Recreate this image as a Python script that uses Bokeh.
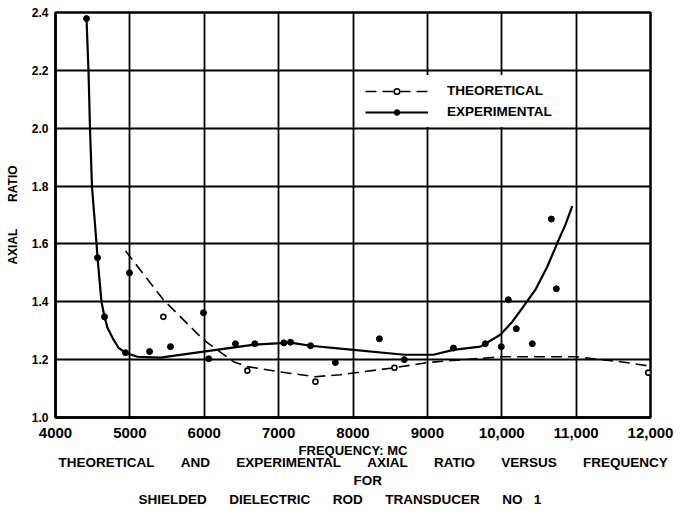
from bokeh.plotting import figure
from bokeh.models import FixedTicker, Legend, LegendItem, Title
from bokeh.embed import file_html
from bokeh.resources import INLINE

# ---------------- data ----------------
x_ticks = [4000, 5000, 6000, 7000, 8000, 9000, 10000, 11000, 12000]
x_tick_labels = ["4000", "5000", "6000", "7000", "8000", "9000", "10,000", "11,000", "12,000"]
y_ticks = [1.0, 1.2, 1.4, 1.6, 1.8, 2.0, 2.2, 2.4]
y_tick_labels = ["1.0", "1.2", "1.4", "1.6", "1.8", "2.0", "2.2", "2.4"]

# experimental smooth curve
exp_curve_f = [4417, 4444, 4464, 4491, 4551, 4565, 4618, 4659, 4699, 4780, 4847, 4941, 5102, 5411,
               5989, 6675, 7159, 7427, 7830, 8691, 9081, 9349, 9712, 9981, 10142, 10290,
               10451, 10612, 10747, 10855, 10948]
exp_curve_r = [2.379, 2.196, 1.997, 1.797, 1.603, 1.552, 1.400, 1.348, 1.310, 1.269, 1.241, 1.224, 1.210, 1.207,
               1.228, 1.252, 1.259, 1.248, 1.238, 1.217, 1.217, 1.234, 1.245, 1.286, 1.331, 1.383,
               1.441, 1.521, 1.603, 1.666, 1.731]

# experimental measured points
exp_pts_f = [4417, 4565, 4659, 4995, 4941, 5265, 5546, 5990, 6060, 6420, 6680, 7070, 7160,
             7430, 7763, 8355, 8690, 9350, 9779, 9994, 10088, 10196, 10411, 10667, 10734]
exp_pts_r = [2.379, 1.552, 1.348, 1.500, 1.224, 1.228, 1.245, 1.362, 1.203, 1.255, 1.255, 1.258, 1.260,
             1.248, 1.190, 1.272, 1.200, 1.240, 1.255, 1.245, 1.407, 1.307, 1.255, 1.686, 1.445]

# theoretical curve
th_curve_f = [4941, 5451, 5989, 6392, 6580, 6983, 7494, 7830, 8557, 9000, 9995, 11003, 11594, 11957]
th_curve_r = [1.576, 1.407, 1.269, 1.193, 1.176, 1.159, 1.141, 1.148, 1.172, 1.190, 1.210, 1.210, 1.193, 1.179]

# theoretical computed points
th_pts_f = [5450, 6580, 7495, 8557, 11970]
th_pts_r = [1.348, 1.162, 1.124, 1.172, 1.155]

FONT = "Liberation Sans"
NB = "\u00a0"

def spaced(words, n):
    return (NB * n).join(words)

p = figure(width=680, height=511, x_range=(4000, 12000), y_range=(1.0, 2.4),
           output_backend="svg", toolbar_location=None,
           min_border_left=55, min_border_right=30, min_border_top=12, min_border_bottom=94)
p.background_fill_color = "white"
p.border_fill_color = "white"
p.outline_line_color = "black"
p.outline_line_width = 2.5

# axes
p.xaxis.ticker = FixedTicker(ticks=x_ticks)
p.yaxis.ticker = FixedTicker(ticks=y_ticks)
p.xaxis.major_label_overrides = dict(zip(x_ticks, x_tick_labels))
p.yaxis.major_label_overrides = dict(zip(y_ticks, y_tick_labels))
for ax in (p.xaxis[0], p.yaxis[0]):
    ax.axis_line_color = "black"
    ax.axis_line_width = 2.5
    ax.major_tick_out = 0
    ax.major_tick_in = 0
    ax.minor_tick_out = 0
    ax.minor_tick_in = 0
    ax.major_label_text_font = FONT
    ax.major_label_text_font_style = "bold"
    ax.major_label_text_color = "black"
    ax.axis_label_text_font = FONT
    ax.axis_label_text_font_style = "bold"
    ax.axis_label_text_color = "black"

p.xaxis.major_label_text_font_size = "15px"
p.xaxis.major_label_standoff = 10
p.xaxis.axis_label = "FREQUENCY: MC"
p.xaxis.axis_label_text_font_size = "13px"
p.xaxis.axis_label_standoff = 2
p.xaxis.axis_label_text_line_height = 0.9

p.yaxis.major_label_text_font_size = "12px"
p.yaxis.major_label_standoff = 7
p.yaxis.axis_label = spaced(["AXIAL", "RATIO"], 8)
p.yaxis.axis_label_text_font_size = "12px"
p.yaxis.axis_label_standoff = 9

# grid
p.xgrid.ticker = FixedTicker(ticks=x_ticks)
p.ygrid.ticker = FixedTicker(ticks=y_ticks)
for g in (p.xgrid[0], p.ygrid[0]):
    g.grid_line_color = "black"
    g.grid_line_width = 1.8
    g.grid_line_alpha = 1.0

# data renderers
th_line = p.line(th_curve_f, th_curve_r, line_color="black", line_width=1.6, line_dash="11 6")
th_dots = p.scatter(th_pts_f, th_pts_r, marker="circle", size=5, fill_color="white",
                    line_color="black", line_width=1.6)
ex_line = p.line(exp_curve_f, exp_curve_r, line_color="black", line_width=2.2)
ex_dots = p.scatter(exp_pts_f, exp_pts_r, marker="circle", size=6, fill_color="black",
                    line_color="black")

legend = Legend(items=[LegendItem(label="THEORETICAL", renderers=[th_line, th_dots]),
                       LegendItem(label="EXPERIMENTAL", renderers=[ex_line, ex_dots])],
                location=(302, 290), orientation="vertical")
legend.glyph_width = 63
legend.glyph_height = 14
legend.label_height = 14
legend.spacing = 6
legend.padding = 8
legend.margin = 0
legend.label_standoff = 19
legend.label_text_font = FONT
legend.label_text_font_style = "bold"
legend.label_text_font_size = "13.5px"
legend.label_text_color = "black"
legend.border_line_alpha = 0
legend.background_fill_color = "white"
legend.background_fill_alpha = 1.0
p.add_layout(legend, "center")

# caption lines below the chart
captions = [spaced(["THEORETICAL", "AND", "EXPERIMENTAL", "AXIAL", "RATIO", "VERSUS", "FREQUENCY"], 7),
            "FOR",
            spaced(["SHIELDED", "DIELECTRIC", "ROD", "TRANSDUCER", "NO" + NB * 3 + "1"], 6)]
offsets = [3, 298, 83]
standoffs = [-16, 18, -20]
for txt, off, so in zip(captions, offsets, standoffs):
    t = Title(text=txt, align="left", offset=off, text_font=FONT, text_font_style="bold",
              text_font_size="13.5px", text_color="black", standoff=so, text_line_height=0.9)
    p.add_layout(t, "below")

open("out.html", "w").write(file_html(p, INLINE))
